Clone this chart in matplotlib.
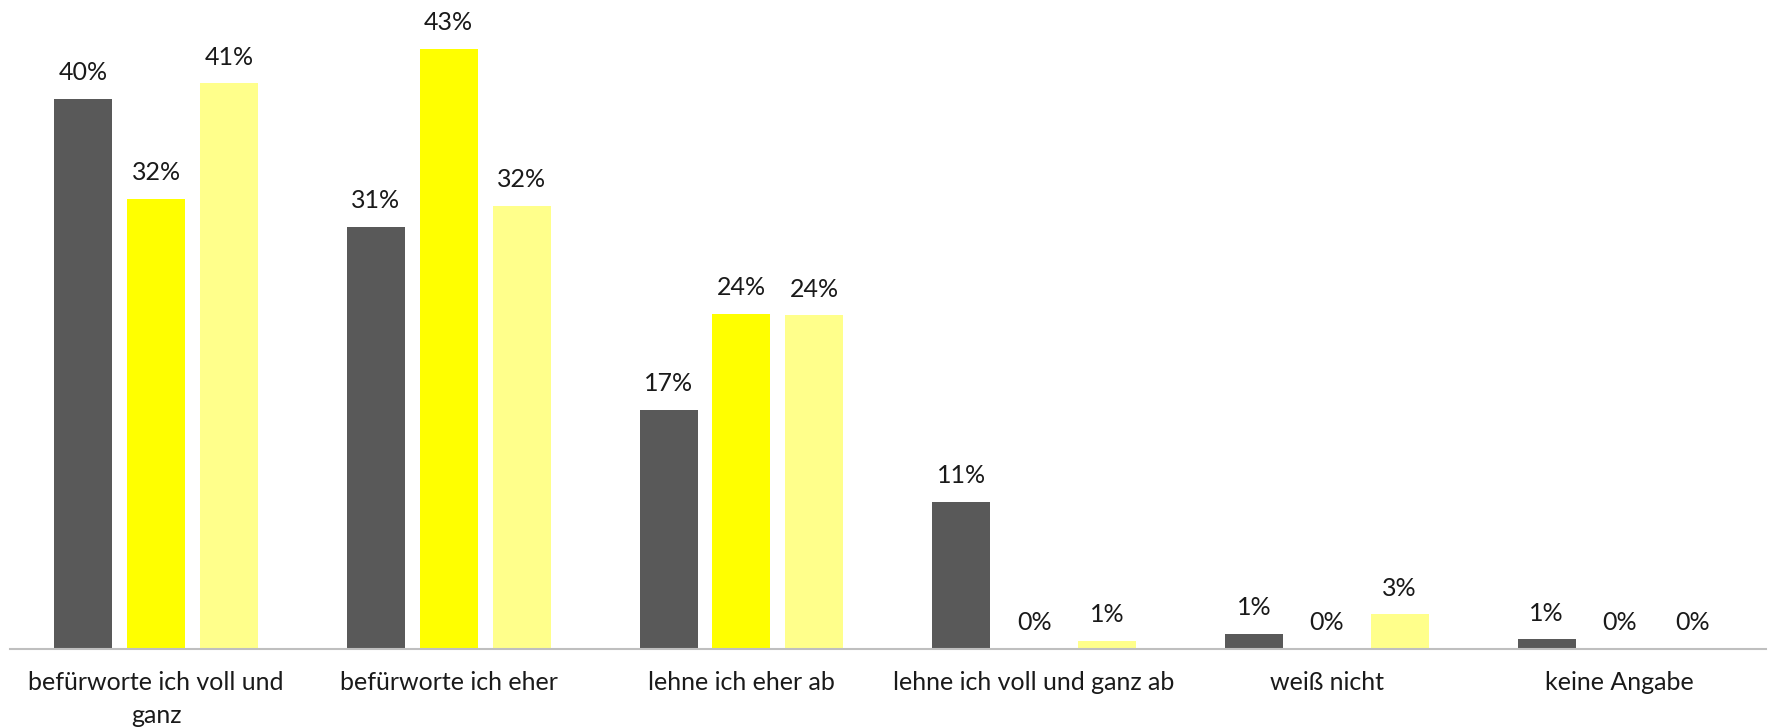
import numpy as np
import matplotlib.pyplot as plt

# --- data ---
categories = ["befürworte ich voll und\nganz", "befürworte ich eher", "lehne ich eher ab",
              "lehne ich voll und ganz ab", "weiß nicht", "keine Angabe"]
series_a = [39.6, 30.4, 17.2, 10.6, 1.1, 0.7]   # dark grey
series_b = [32.4, 43.2, 24.1, 0.0, 0.0, 0.0]    # yellow
series_c = [40.7, 31.9, 24.0, 0.6, 2.5, 0.0]    # light yellow
labels_a = ["40%", "31%", "17%", "11%", "1%", "1%"]
labels_b = ["32%", "43%", "24%", "0%", "0%", "0%"]
labels_c = ["41%", "32%", "24%", "1%", "3%", "0%"]

colors = ["#595959", "#FFFF00", "#FFFF8B"]

plt.rcParams['font.family'] = ['Lato', 'DejaVu Sans']

fig = plt.figure(figsize=(17.69, 7.28), dpi=100)
ax = fig.add_axes([0.0055, 0.1085, 0.9927, 0.8915])

x = np.arange(len(categories))
width = 0.198
step = 0.249

for k, (vals, labs) in enumerate([(series_a, labels_a), (series_b, labels_b), (series_c, labels_c)]):
    pos = x + (k - 1) * step
    ax.bar(pos, vals, width=width, color=colors[k], zorder=2)
    for px, v, lab in zip(pos, vals, labs):
        ax.annotate(lab, (px, v), xytext=(0, 13.5), textcoords="offset points",
                    ha="center", va="baseline", fontsize=18, color="#1a1a1a")

ax.set_xlim(-0.5, len(categories) - 0.5)
ax.set_ylim(0, 46.7)
ax.set_yticks([])
ax.set_xticks(x)
ax.set_xticklabels(categories, fontsize=18, color="#1a1a1a", linespacing=1.5)
ax.tick_params(axis="x", length=0, pad=16)

for s in ["top", "left", "right"]:
    ax.spines[s].set_visible(False)
ax.spines["bottom"].set_color("#bfbfbf")
ax.spines["bottom"].set_linewidth(1.5)

fig.savefig("out.png", dpi=100)
